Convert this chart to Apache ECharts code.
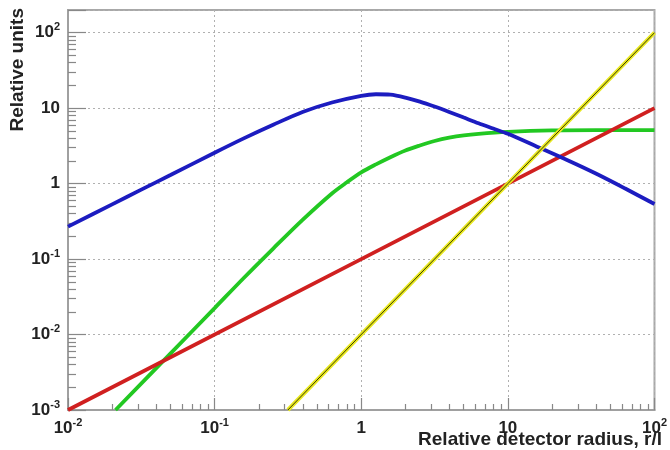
<!DOCTYPE html>
<html>
<head>
<meta charset="utf-8">
<script src="https://cdn.jsdelivr.net/npm/echarts@6/dist/echarts.min.js"></script>
<style>html,body{margin:0;padding:0;background:#fff;}#c{width:670px;height:450px;}</style>
</head>
<body>
<div id="c"></div>
<script>
// Data (x = relative detector radius r/l, y = relative units)
const blueX  = [0.01, 0.02, 0.0316, 0.05, 0.1, 0.158, 0.251, 0.398, 0.631, 1.0, 1.26, 1.58, 2.0, 2.51, 3.16, 3.98, 5.01, 6.31, 7.94, 10, 15.8, 25.1, 39.8, 63.1, 100];
const blueY  = [0.269, 0.531, 0.832, 1.30, 2.57, 3.98, 6.03, 8.91, 11.9, 14.6, 15.3, 15.1, 13.8, 12.2, 10.5, 8.91, 7.50, 6.31, 5.37, 4.57, 3.09, 2.07, 1.36, 0.861, 0.537];
const greenX = [0.0211, 0.0501, 0.1, 0.158, 0.251, 0.398, 0.631, 0.794, 1.0, 1.26, 1.58, 2.0, 2.51, 3.16, 3.98, 5.01, 6.31, 10, 20, 39.8, 100];
const greenY = [0.001, 0.00562, 0.0224, 0.0562, 0.138, 0.331, 0.741, 1.035, 1.41, 1.80, 2.24, 2.75, 3.20, 3.67, 4.07, 4.37, 4.57, 4.84, 5.07, 5.13, 5.13];
const redX   = [0.01, 1, 100];
const redY   = [0.001, 0.1, 10];
const yellowX = [0.316, 10, 100];
const yellowY = [0.001, 1, 100];
const xTickLabels = {'-2': '10{s|-2}', '-1': '10{s|-1}', '0': '1', '1': '10', '2': '10{s|2}'};
const yTickLabels = {'-3': '10{s|-3}', '-2': '10{s|-2}', '-1': '10{s|-1}', '0': '1', '1': '10', '2': '10{s|2}'};
const xTitle = 'Relative detector radius, r/l';
const yTitle = 'Relative units';

function pairs(xs, ys) { return xs.map((x, i) => [x, ys[i]]); }
function fmt(map) {
  return function (v) {
    const e = Math.log10(v);
    const r = Math.round(e);
    if (Math.abs(e - r) > 1e-6) return '';
    return map[String(r)] !== undefined ? map[String(r)] : '';
  };
}
const FF = '"Liberation Sans", Arial, Helvetica, sans-serif';
const rich = {
  s: { fontSize: 11, fontWeight: 'bold', color: '#222', fontFamily: FF, lineHeight: 22, verticalAlign: 'top' }
};
const labelBase = { color: '#222', fontSize: 17, fontWeight: 'bold', fontFamily: FF, lineHeight: 22, rich: rich };

const chart = echarts.init(document.getElementById('c'), null, { renderer: 'canvas' });
chart.setOption({
  animation: false,
  backgroundColor: '#fff',
  grid: { left: 68, right: 12, top: 10, bottom: 40, show: true, borderColor: '#a8a8a8', borderWidth: 2, backgroundColor: 'transparent' },
  xAxis: {
    type: 'log', logBase: 10, min: 0.01, max: 100,
    axisLine: { show: true, lineStyle: { color: '#a0a0a0', width: 2 } },
    axisTick: { show: true, inside: true, length: 12, lineStyle: { color: '#888', width: 1.2 } },
    minorTick: { show: true, splitNumber: 9, length: 6, lineStyle: { color: '#888', width: 1.2 } },
    splitLine: { show: true, lineStyle: { color: '#b0b0b0', type: [2, 3], width: 1 } },
    axisLabel: Object.assign({ formatter: fmt(xTickLabels), margin: 7 }, labelBase)
  },
  yAxis: {
    type: 'log', logBase: 10, min: 0.001, max: 200,
    axisLine: { show: true, lineStyle: { color: '#a0a0a0', width: 2 } },
    axisTick: { show: true, inside: true, length: 18, lineStyle: { color: '#888', width: 1.2 } },
    minorTick: { show: true, splitNumber: 9, length: 8, lineStyle: { color: '#888', width: 1.2 } },
    splitLine: { show: true, lineStyle: { color: '#b0b0b0', type: [2, 3], width: 1 } },
    axisLabel: Object.assign({ formatter: fmt(yTickLabels), margin: 8 }, labelBase)
  },
  graphic: [
    { type: 'text', right: 8, top: 430, style: { text: xTitle, fill: '#222', font: 'bold 19px ' + FF } },
    { type: 'text', x: 18, y: 8, rotation: Math.PI / 2, style: { text: yTitle, fill: '#222', align: 'right', verticalAlign: 'middle', font: 'bold 19px ' + FF } }
  ],
  series: [
    { type: 'line', data: pairs(greenX, greenY), smooth: 0.3, showSymbol: false, clip: true, lineStyle: { color: '#22c822', width: 3.8 } },
    { type: 'line', data: pairs(redX, redY), showSymbol: false, clip: true, lineStyle: { color: '#d02020', width: 3.8 } },
    { type: 'line', data: pairs(blueX, blueY), smooth: 0.3, showSymbol: false, clip: true, lineStyle: { color: '#1c1cc0', width: 3.8 } },
    { type: 'line', data: pairs(yellowX, yellowY), showSymbol: false, clip: true, lineStyle: { color: '#e8e820', width: 4 } },
    { type: 'line', data: pairs(yellowX, yellowY), showSymbol: false, clip: true, lineStyle: { color: '#3a3a00', width: 1 } }
  ]
});
</script>
</body>
</html>
